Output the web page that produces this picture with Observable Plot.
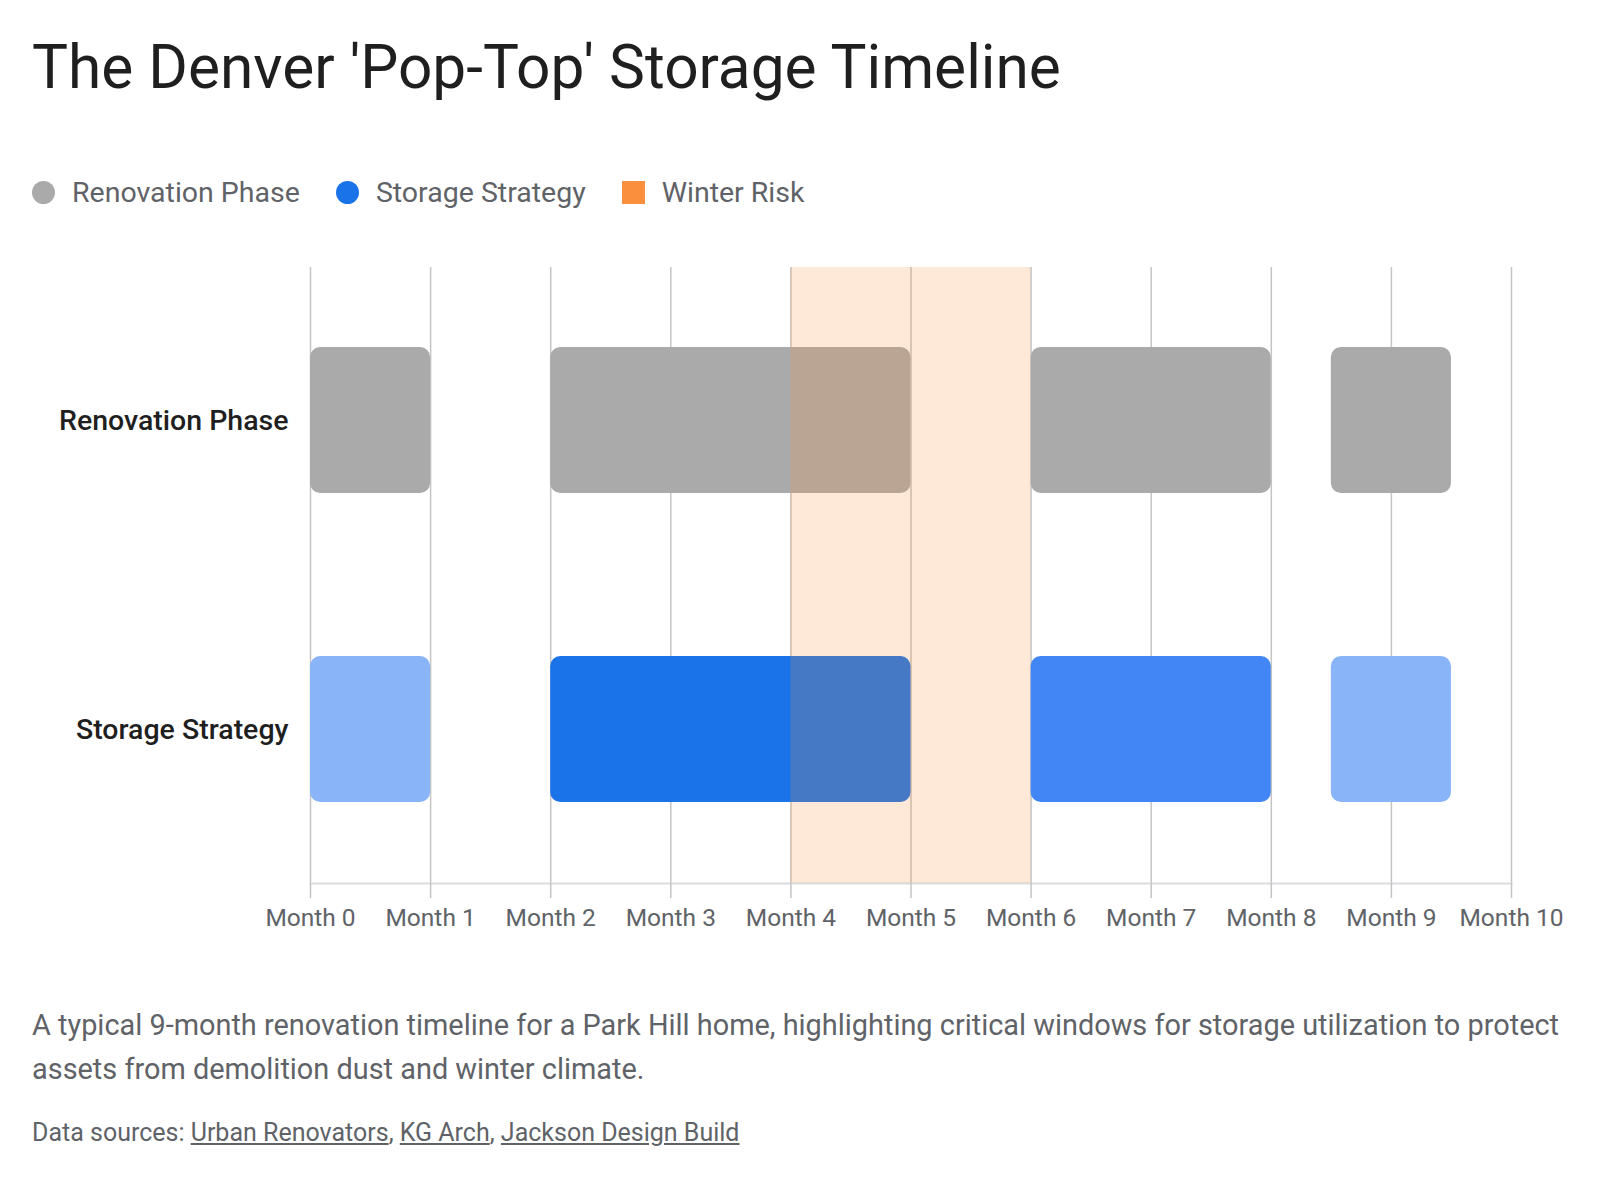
<!DOCTYPE html>
<html>
<head>
<meta charset="utf-8">
<script src="https://cdn.jsdelivr.net/npm/d3@7"></script>
<script src="https://cdn.jsdelivr.net/npm/@observablehq/plot@0.6"></script>
<style>
  html, body { margin: 0; padding: 0; background: #ffffff; }
  body { font-family: Roboto, "Noto Sans", sans-serif; width: 1600px; height: 1200px; overflow: hidden; }
  #wrap { padding: 0 32px; }
  h1 { font-size: 60.4px; font-weight: 400; color: #1f1f1f; margin: 33px 0 0 0; line-height: 70px; white-space: nowrap; }
  .legend { margin-top: 69px; height: 40px; display: flex; align-items: center; font-size: 28.5px; color: #5f6368; }
  .legend .item { display: flex; align-items: center; margin-right: 36px; }
  .legend .sw { width: 23px; height: 23px; margin-right: 17px; }
  .legend .circle { border-radius: 50%; }
  #chart { margin-top: 33px; height: 705px; }
  #chart svg { display: block; }
  .caption { margin-top: 53px; font-size: 28.9px; line-height: 44px; color: #5f6368; }
  .sources { margin-top: 27px; font-size: 25px; line-height: 30px; color: #5f6368; }
  .sources a { color: #5f6368; text-decoration: underline; }
</style>
</head>
<body>
<div id="wrap">
  <h1 id="title"></h1>
  <div class="legend" id="legend"></div>
  <div id="chart"></div>
  <div class="caption" id="caption"></div>
  <div class="sources" id="sources"></div>
</div>
<script>
// ---- Data ----
const titleText = "The Denver 'Pop-Top' Storage Timeline";
const captionText = "A typical 9-month renovation timeline for a Park Hill home, highlighting critical windows for storage utilization to protect assets from demolition dust and winter climate.";
const sourceNames = ["Urban Renovators", "KG Arch", "Jackson Design Build"];

const rows = ["Renovation Phase", "Storage Strategy"];
const segmentStarts = [0, 2, 6, 8.5];
const segmentEnds = [1, 5, 8, 9.5];
const renovationLevels = ["Renovation", "Renovation", "Renovation", "Renovation"];
const storageLevels = ["Storage light", "Storage heavy", "Storage medium", "Storage light"];

const winterStart = 4;
const winterEnd = 6;

const monthTicks = [0, 1, 2, 3, 4, 5, 6, 7, 8, 9, 10];
const legendLabels = ["Renovation Phase", "Storage Strategy", "Winter Risk"];

// ---- Styles (kept out of data) ----
const levelDomain = ["Renovation", "Storage light", "Storage medium", "Storage heavy"];
const levelColors = ["#aaaaaa", "#8ab4f8", "#4285f4", "#1a73e8"];
const legendColors = ["#aaaaaa", "#1a73e8", "#fa903e"];
const legendShapes = ["circle", "circle", "square"];
const winterColor = "#fa903e";

// ---- Build table ----
const segments = [];
segmentStarts.forEach((s, i) => {
  segments.push({row: rows[0], start: s, end: segmentEnds[i], level: renovationLevels[i]});
});
segmentStarts.forEach((s, i) => {
  segments.push({row: rows[1], start: s, end: segmentEnds[i], level: storageLevels[i]});
});
const winter = [{start: winterStart, end: winterEnd}];

// ---- Text ----
document.getElementById("title").textContent = titleText;
document.getElementById("caption").textContent = captionText;
const src = document.getElementById("sources");
src.append("Data sources: ");
sourceNames.forEach((n, i) => {
  const a = document.createElement("a");
  a.textContent = n; a.href = "#";
  src.append(a);
  if (i < sourceNames.length - 1) src.append(", ");
});
const leg = document.getElementById("legend");
legendLabels.forEach((l, i) => {
  const it = document.createElement("div"); it.className = "item";
  const sw = document.createElement("div");
  sw.className = "sw" + (legendShapes[i] === "circle" ? " circle" : "");
  sw.style.background = legendColors[i];
  const t = document.createElement("span"); t.textContent = l;
  it.append(sw, t); leg.append(it);
});

// ---- Chart ----
const plot = Plot.plot({
  width: 1536,
  height: 705,
  marginLeft: 278,
  marginRight: 57,
  marginTop: 22,
  marginBottom: 67,
  style: {fontFamily: "Roboto, 'Noto Sans', sans-serif", background: "#ffffff"},
  x: {domain: [0, 10]},
  y: {domain: rows, paddingInner: 0.5275, paddingOuter: 0.26},
  color: {domain: levelDomain, range: levelColors},
  marks: [
    Plot.gridX(monthTicks, {stroke: "#c4c4c4", strokeOpacity: 1, strokeWidth: 1.5}),
    Plot.frame({anchor: "bottom", stroke: "#dadce0", strokeWidth: 2}),
    Plot.barX(segments, {x1: "start", x2: "end", y: "row", fill: "level", rx: 10}),
    Plot.rectX(winter, {x1: "start", x2: "end", fill: winterColor, fillOpacity: 0.2}),
    Plot.axisX(monthTicks, {tickFormat: d => `Month ${d}`, tickSize: 15, tickPadding: 10, fontSize: 24.5, fill: "#5f6368", stroke: "#c4c4c4", strokeOpacity: 1, strokeWidth: 1.5, label: null}),
    Plot.axisY({tickSize: 0, tickPadding: 22, fontSize: 28.5, fontWeight: 500, fill: "#1f1f1f", label: null})
  ]
});
document.getElementById("chart").append(plot);
</script>
</body>
</html>
